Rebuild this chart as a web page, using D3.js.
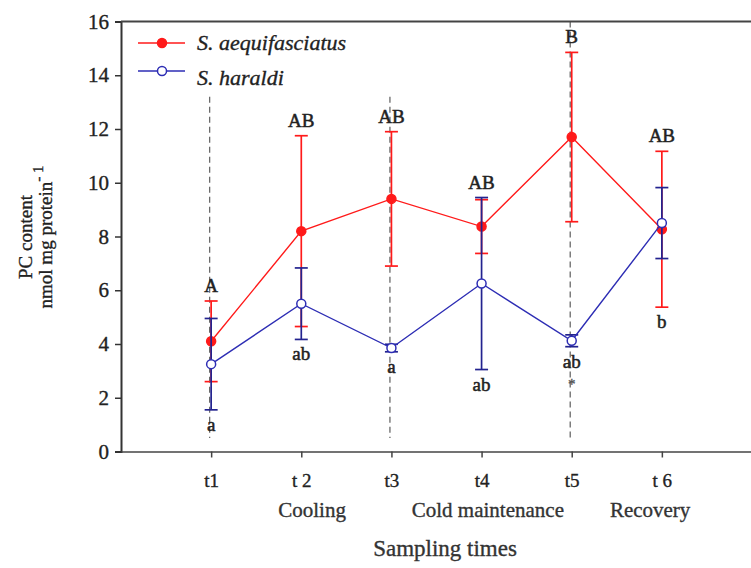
<!DOCTYPE html>
<html>
<head>
<meta charset="utf-8">
<script src="https://cdn.jsdelivr.net/npm/d3@7"></script>
<style>
  body { margin: 0; background: #fff; }
  svg text { font-family: "Liberation Serif", "Times New Roman", serif; fill: #222; stroke: #222; stroke-width: 0.35px; }
</style>
</head>
<body>
<div id="chart"></div>
<script>
// sampling times and values
var times = ["t1", "t 2", "t3", "t4", "t5", "t 6"];
var redMean = [4.1, 8.2, 9.4, 8.37, 11.7, 8.27];
var redErr  = [1.5, 3.55, 2.5, 1.0, 3.15, 2.9];
var blueMean = [3.25, 5.5, 3.85, 6.25, 4.12, 8.5];
var blueErr  = [1.7, 1.33, 0.14, 3.2, 0.22, 1.32];
var upperLetters = ["A", "AB", "AB", "AB", "B", "AB"];
var lowerLetters = ["a", "ab", "a", "ab", "ab", "b"];
var lowerMarks   = ["", "", "", "", "*", ""];
var phases = ["Cooling", "Cold maintenance", "Recovery"];
var phaseAt = [2.12, 4.07, 5.87];
// dashed phase separators: time index, top value
var dividers = [[1, 13.2], [3, 13.2], [5, 16]];
var yTicks = [0, 2, 4, 6, 8, 10, 12, 14, 16];
var seriesNames = ["S. aequifasciatus", "S. haraldi"];

var width = 751, height = 568;
var red = "#ff1a1a", blue = "#2d2db4", blueBar = "#23238f";
var serif = "Liberation Serif";

var svg = d3.select("#chart").append("svg")
	.attr("width", width)
	.attr("height", height);

var x = d3.scaleLinear().domain([0, 7]).range([121, 752]);
var y = d3.scaleLinear().domain([0, 16]).range([451.5, 21.5]);

// phase dividers
svg.append("g").selectAll("line").data(dividers).enter().append("line")
	.attr("x1", function(d){ return x(d[0]) - 1.5; })
	.attr("x2", function(d){ return x(d[0]) - 1.5; })
	.attr("y1", function(d){ return y(d[1]); })
	.attr("y2", y(0.5))
	.attr("stroke", "#6a6a6a")
	.attr("stroke-width", 1.3)
	.attr("stroke-dasharray", "6,4");

// axes
var yAxis = svg.append("g").attr("transform", "translate(121,0)")
	.attr("font-family", serif)
	.call(d3.axisLeft(y).tickValues(yTicks).tickSize(6).tickPadding(6));
yAxis.attr("font-family", serif);
yAxis.select(".domain").attr("stroke", "#333").attr("stroke-width", 2);
yAxis.selectAll(".tick line").attr("stroke", "#333").attr("stroke-width", 1.5);
yAxis.selectAll(".tick text").style("font-size", "21px").attr("fill", "#222");

var xAxis = svg.append("g").attr("transform", "translate(0," + y(0) + ")")
	.call(d3.axisBottom(x).tickValues([1, 2, 3, 4, 5, 6])
		.tickFormat(function(d){ return times[d - 1]; })
		.tickSize(6).tickPadding(16).tickSizeOuter(0));
xAxis.attr("font-family", serif);
xAxis.select(".domain").attr("stroke", "#444").attr("stroke-width", 1.6);
xAxis.selectAll(".tick line").attr("stroke", "#444").attr("stroke-width", 1.5);
xAxis.selectAll(".tick text").style("font-size", "19px").attr("fill", "#222");

// top frame line
svg.append("line")
	.attr("x1", x(0)).attr("x2", x(7))
	.attr("y1", y(16)).attr("y2", y(16))
	.attr("stroke", "#444").attr("stroke-width", 1.8);

// series
function drawSeries(means, errs, lineColor, barColor, filled) {
	var g = svg.append("g");
	var idx = d3.range(means.length);
	g.selectAll("line.bar").data(idx).enter().append("line")
		.attr("x1", function(i){ return x(i + 1); })
		.attr("x2", function(i){ return x(i + 1); })
		.attr("y1", function(i){ return y(means[i] - errs[i]); })
		.attr("y2", function(i){ return y(means[i] + errs[i]); })
		.attr("stroke", barColor).attr("stroke-width", 1.7);
	[-1, 1].forEach(function(s){
		g.selectAll("line.cap" + s).data(idx).enter().append("line")
			.attr("x1", function(i){ return x(i + 1) - 6.5; })
			.attr("x2", function(i){ return x(i + 1) + 6.5; })
			.attr("y1", function(i){ return y(means[i] + s * errs[i]); })
			.attr("y2", function(i){ return y(means[i] + s * errs[i]); })
			.attr("stroke", barColor).attr("stroke-width", 1.7);
	});
	var line = d3.line()
		.x(function(i){ return x(i + 1); })
		.y(function(i){ return y(means[i]); });
	g.append("path").datum(idx).attr("d", line)
		.attr("fill", "none").attr("stroke", lineColor).attr("stroke-width", 1.4);
	g.selectAll("circle").data(idx).enter().append("circle")
		.attr("cx", function(i){ return x(i + 1); })
		.attr("cy", function(i){ return y(means[i]); })
		.attr("r", 4.5)
		.attr("fill", filled ? lineColor : "#fff")
		.attr("stroke", lineColor).attr("stroke-width", 1.5);
}
drawSeries(redMean, redErr, red, red, true);
drawSeries(blueMean, blueErr, blue, blueBar, false);

// significance letters
var letters = svg.append("g").style("font-size", "19px").attr("text-anchor", "middle");
letters.selectAll("text.up").data(upperLetters).enter().append("text")
	.attr("x", function(d, i){ return x(i + 1); })
	.attr("y", function(d, i){
		var top = Math.max(redMean[i] + redErr[i], blueMean[i] + blueErr[i]);
		return y(top) - 9;
	})
	.style("stroke-width", "0.5px")
	.text(function(d){ return d; });
letters.selectAll("text.low").data(lowerLetters).enter().append("text")
	.attr("x", function(d, i){ return x(i + 1); })
	.attr("y", function(d, i){
		var low = Math.min(redMean[i] - redErr[i], blueMean[i] - blueErr[i]);
		return y(low) + 21;
	})
	.style("stroke-width", "0.5px")
	.text(function(d){ return d; });
letters.selectAll("text.mark").data(lowerMarks).enter().append("text")
	.attr("x", function(d, i){ return x(i + 1); })
	.attr("y", function(d, i){
		var low = Math.min(redMean[i] - redErr[i], blueMean[i] - blueErr[i]);
		return y(low) + 42;
	})
	.style("font-size", "15px").style("fill", "#555").style("stroke", "#555")
	.text(function(d){ return d; });

// phase labels and axis titles
svg.append("g").selectAll("text").data(phases).enter().append("text")
	.attr("x", function(d, i){ return x(phaseAt[i]); })
	.attr("y", 517)
	.attr("text-anchor", "middle")
	.style("font-size", "21px").style("fill", "#333").style("stroke", "#333")
	.text(function(d){ return d; });

svg.append("text")
	.attr("x", 445).attr("y", 556)
	.attr("text-anchor", "middle")
	.style("font-size", "23px").style("fill", "#333").style("stroke", "#333")
	.text("Sampling times");

var yl = svg.append("g").attr("transform", "rotate(-90)")
	.attr("text-anchor", "middle").style("font-size", "19px");
yl.append("text").attr("x", -237).attr("y", 32).text("PC content");
var t2 = yl.append("text").attr("x", -237).attr("y", 52);
t2.append("tspan").text("nmol mg protein");
t2.append("tspan").attr("dy", -9).style("font-size", "15px").text("- 1");

// legend
var legend = svg.append("g");
[[red, true, 43, 50], [blue, false, 71, 85]].forEach(function(l, i){
	legend.append("line")
		.attr("x1", 138).attr("x2", 185).attr("y1", l[2]).attr("y2", l[2])
		.attr("stroke", l[0]).attr("stroke-width", 1.5);
	legend.append("circle").attr("cx", 162).attr("cy", l[2]).attr("r", 4.5)
		.attr("fill", l[1] ? l[0] : "#fff").attr("stroke", l[0]).attr("stroke-width", 1.5);
	legend.append("text").attr("x", 197).attr("y", l[3])
		.style("font-size", "22px").style("font-style", "italic")
		.text(seriesNames[i]);
});
</script>
</body>
</html>
